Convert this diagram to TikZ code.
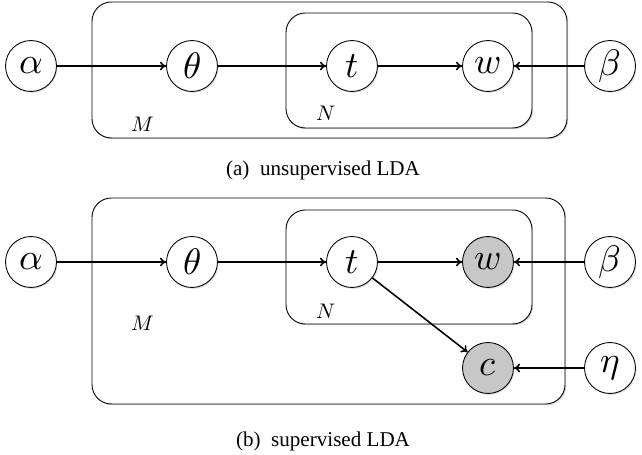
\documentclass[tikz,border=0pt]{standalone}
\usepackage{fontspec}
\usepackage{unicode-math}
\setmainfont{Liberation Serif}
\setmathfont{Latin Modern Math}
\usetikzlibrary{arrows.meta,shadows}
\begin{document}
\begin{tikzpicture}[x=0.02cm,y=-0.02cm,
  var/.style={circle,draw,fill=white,line width=0.5pt,minimum size=29pt,inner sep=0pt,
    font=\fontsize{21}{24}\selectfont,
    drop shadow={shadow xshift=0.6pt,shadow yshift=-0.8pt,opacity=0.25}},
  obs/.style={var,fill=black!22},
  plate/.style={draw,fill=white,rounded corners=11pt,line width=0.5pt,
    drop shadow={shadow xshift=0.7pt,shadow yshift=-0.7pt,opacity=0.3}},
  edge/.style={-{To[length=3.5pt,width=5pt]},line width=0.9pt},
  platelabel/.style={font=\fontsize{12}{14}\selectfont},
  caption/.style={font=\fontsize{12}{14}\selectfont}]
\useasboundingbox (0,0) rectangle (642,455);

% ---- (a) unsupervised LDA ----
\draw[plate] (92,2) rectangle (567,138);
\draw[plate] (286,13) rectangle (532,128);
\node[platelabel] (Ma) at (143,124) {$M$};
\node[platelabel] (Na) at (326,113) {$N$};
\node[var] (alphaA) at (31,66) {$\alpha$};
\node[var] (thetaA) at (192,66) {$\theta$};
\node[var] (tA) at (352,66) {$t$};
\node[var] (wA) at (488,66) {$w$};
\node[var] (betaA) at (610,66) {$\beta$};
\draw[edge] (alphaA) -- (thetaA);
\draw[edge] (thetaA) -- (tA);
\draw[edge] (tA) -- (wA);
\draw[edge] (betaA) -- (wA);
\node[caption] (capA) at (323,170) {(a)\ \ unsupervised LDA};

% ---- (b) supervised LDA ----
\draw[plate] (92,198) rectangle (565,404);
\draw[plate] (286,210) rectangle (532,324);
\node[platelabel] (Mb) at (143,323) {$M$};
\node[platelabel] (Nb) at (326,311) {$N$};
\node[var] (alphaB) at (31,262) {$\alpha$};
\node[var] (thetaB) at (192,262) {$\theta$};
\node[var] (tB) at (352,262) {$t$};
\node[obs] (wB) at (488,262) {$w$};
\node[var] (betaB) at (610,262) {$\beta$};
\node[obs] (cB) at (488,368) {$c$};
\node[var] (etaB) at (610,368) {$\eta$};
\draw[edge] (alphaB) -- (thetaB);
\draw[edge] (thetaB) -- (tB);
\draw[edge] (tB) -- (wB);
\draw[edge] (betaB) -- (wB);
\draw[edge] (tB) -- (cB);
\draw[edge] (etaB) -- (cB);
\node[caption] (capB) at (323,441) {(b)\ \ supervised LDA};
\end{tikzpicture}
\end{document}
